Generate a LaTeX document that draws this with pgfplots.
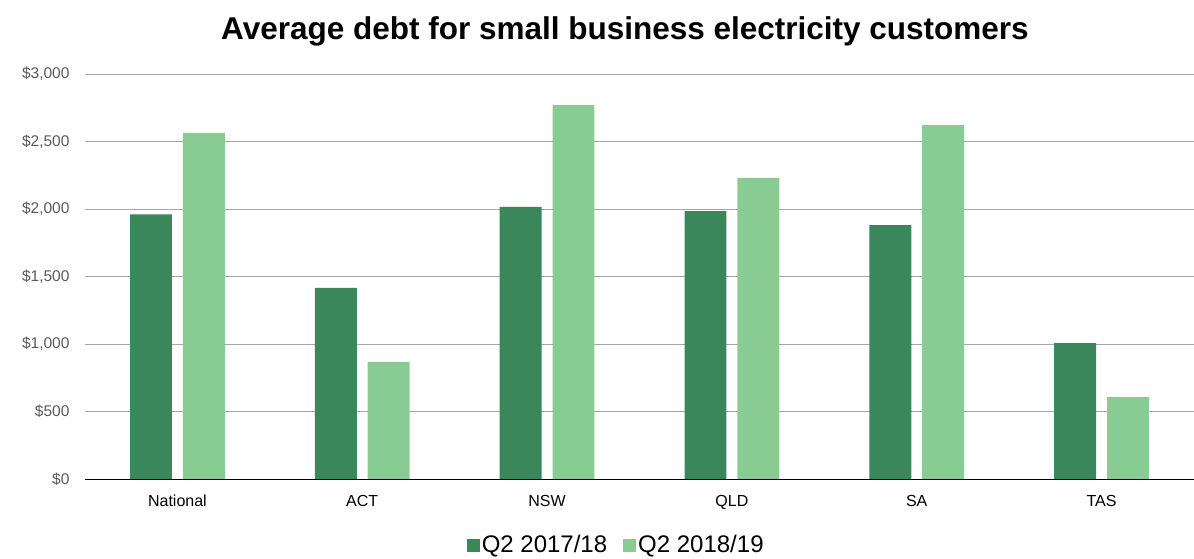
\documentclass[border=0pt]{standalone}
\usepackage{pgfplots}
\pgfplotsset{compat=1.18}
\usepackage{fontspec}
\setmainfont{Liberation Sans}
\definecolor{darkg}{HTML}{3A875B}
\definecolor{lightg}{HTML}{88CC93}
\definecolor{gridg}{HTML}{A6A6A6}
\definecolor{tickg}{HTML}{595959}
\begin{document}
\begin{tikzpicture}[x=1pt,y=1pt]
\path[use as bounding box] (0,0) rectangle (1194,558);
\node[font=\fontsize{31.5}{36}\selectfont\bfseries] at (625,527) {Average debt for small business electricity customers};
\begin{axis}[
  at={(85pt,79pt)}, anchor=south west,
  scale only axis, width=1109pt, height=405pt,
  xmin=-0.5, xmax=5.5, ymin=0, ymax=3000,
  ybar, bar width=0.227,
  axis line style={draw=none},
  xtick=data, xticklabels={National,ACT,NSW,QLD,SA,TAS},
  ytick={0,500,1000,1500,2000,2500,3000},
  yticklabels={\$0,\$500,{\$1,000},{\$1,500},{\$2,000},{\$2,500},{\$3,000}},
  major tick length=0pt,
  ymajorgrids, grid style={gridg, line width=1pt},
  yticklabel style={font=\fontsize{15.5}{19}\selectfont, text=tickg, xshift=-12pt},
  xticklabel style={font=\fontsize{16}{19}\selectfont, text=black, yshift=-12pt, text height=12pt, text depth=3pt},
  legend style={at={(0.479,-0.163)}, anchor=center, draw=none, legend columns=2, inner sep=1pt,
    font=\fontsize{24}{28}\selectfont, /tikz/every even column/.append style={column sep=14pt}},
  legend image code/.code={\fill[#1] (0pt,-6.5pt) rectangle (13pt,6.5pt);},
  clip=false,
]
\addplot[fill=darkg, draw=none, bar shift=-0.143] coordinates {(0,1960) (1,1415) (2,2015) (3,1985) (4,1881) (5,1007)};
\addplot[fill=lightg, draw=none, bar shift=0.143] coordinates {(0,2563) (1,867) (2,2770) (3,2230) (4,2622) (5,607)};
\legend{Q2 2017/18, Q2 2018/19}
\draw[black, line width=1pt] (rel axis cs:0,0) -- (rel axis cs:1,0);
\end{axis}
\end{tikzpicture}
\end{document}
